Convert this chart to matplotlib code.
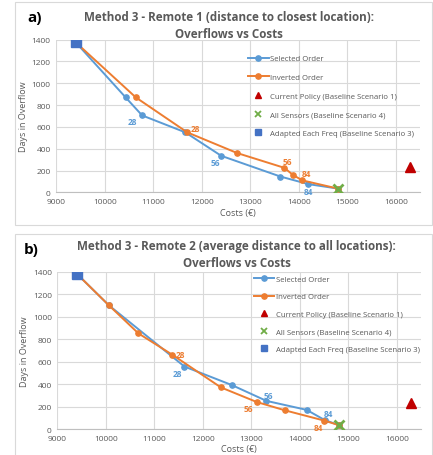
import matplotlib
matplotlib.use("Agg")
import matplotlib.pyplot as plt
from matplotlib.patches import Rectangle

plt.rcParams['font.family'] = ['Open Sans', 'DejaVu Sans']

# ---------------- data ----------------
# Panel a) Remote 1
a_sel_x = [9400, 10430, 10770, 11660, 12400, 13620, 14200, 14800]
a_sel_y = [1375, 870, 705, 550, 335, 145, 75, 35]
a_inv_x = [9400, 10640, 11700, 12730, 13700, 13880, 14070, 14800]
a_inv_y = [1375, 870, 550, 360, 225, 160, 110, 35]
a_sel_lbl = {2: "28", 4: "56", 6: "84"}
a_inv_lbl = {2: "28", 4: "56", 6: "84"}

# Panel b) Remote 2
b_sel_x = [9400, 10060, 11620, 12600, 13310, 14140, 14510, 14800]
b_sel_y = [1380, 1100, 555, 390, 250, 170, 80, 35]
b_inv_x = [9400, 10060, 10670, 11370, 12370, 13110, 13700, 14500, 14800]
b_inv_y = [1380, 1100, 850, 660, 370, 240, 165, 75, 35]
b_sel_lbl = {2: "28", 4: "56", 6: "84"}
b_inv_lbl = {3: "28", 5: "56", 7: "84"}

current_policy = (16300, 230)
all_sensors = (14800, 35)
adapted_each = (9400, 1378)

x_ticks = [9000, 10000, 11000, 12000, 13000, 14000, 15000, 16000]
y_ticks = [0, 200, 400, 600, 800, 1000, 1200, 1400]

BLUE = "#5B9BD5"
ORANGE = "#ED7D31"
RED = "#C00000"
GREEN = "#70AD47"
SQ = "#4472C4"
GRAY = "#595959"
GRID = "#D9D9D9"

fig = plt.figure(figsize=(4.33, 4.56), dpi=100)
fig.patch.set_facecolor("white")

# panel borders
fig.patches.append(Rectangle((15/433, 1-226/456), 417/433, 223/456, transform=fig.transFigure,
                             fill=False, edgecolor="#D9D9D9", lw=0.8))
fig.patches.append(Rectangle((15/433, -0.01), 417/433, (456-235)/456 + 0.01, transform=fig.transFigure,
                             fill=False, edgecolor="#D9D9D9", lw=0.8))


def draw(ax, sx, sy, ix, iy, slbl, ilbl, title, slbl_off, ilbl_off, leg_anchor, leg_space, tpad, tx):
    ax.set_xlim(9000, 16500)
    ax.set_ylim(0, 1400)
    ax.set_xticks(x_ticks)
    ax.set_yticks(y_ticks)
    ax.grid(True, color=GRID, lw=0.8)
    ax.set_axisbelow(True)
    for s in ["top", "right", "left"]:
        ax.spines[s].set_visible(False)
    ax.spines["bottom"].set_color("#BFBFBF")
    ax.tick_params(length=0, labelsize=6, colors=GRAY, pad=4)
    ax.set_xlabel("Costs (€)", fontsize=6.5, color=GRAY, labelpad=2)
    ax.set_ylabel("Days in Overflow", fontsize=6.5, color=GRAY, labelpad=3)

    ax.plot(sx, sy, color=BLUE, lw=1.4, marker="o", ms=3.8, label="Selected Order", zorder=3)
    ax.plot(ix, iy, color=ORANGE, lw=1.4, marker="o", ms=3.8, label="Inverted Order", zorder=4)
    ax.plot([current_policy[0]], [current_policy[1]], ls="none", marker="^", color=RED, ms=7,
            label="Current Policy (Baseline Scenario 1)", zorder=5)
    ax.plot([all_sensors[0]], [all_sensors[1]], ls="none", marker="x", color=GREEN, ms=7, mew=2,
            label="All Sensors (Baseline Scenario 4)", zorder=6)
    ax.plot([adapted_each[0]], [adapted_each[1]], ls="none", marker="s", color=SQ, ms=7.5,
            label="Adapted Each Freq (Baseline Scenario 3)", zorder=6)

    for i, t in slbl.items():
        dx, dy = slbl_off[i]
        ax.annotate(t, (sx[i], sy[i]), xytext=(dx, dy), textcoords="offset points",
                    ha="center", va="center", fontsize=6, color=BLUE, fontweight="bold", zorder=7)
    for i, t in ilbl.items():
        dx, dy = ilbl_off[i]
        ax.annotate(t, (ix[i], iy[i]), xytext=(dx, dy), textcoords="offset points",
                    ha="center", va="center", fontsize=6, color=ORANGE, fontweight="bold", zorder=7)

    leg = ax.legend(loc="upper left", bbox_to_anchor=leg_anchor, frameon=False, fontsize=5.6,
                    handlelength=2.6, handletextpad=0.2, labelspacing=leg_space, borderaxespad=0,
                    borderpad=0)
    for txt in leg.get_texts():
        txt.set_color(GRAY)
    hs = leg.legend_handles
    hs[0].set_markersize(3.8)
    hs[1].set_markersize(3.8)
    hs[2].set_markersize(4.5)
    hs[3].set_markersize(4.2)
    hs[3].set_markeredgewidth(1.3)
    hs[4].set_markersize(4.2)
    ax.set_title(title, fontsize=8.4, fontweight="bold", color=GRAY, pad=tpad, linespacing=1.35, x=tx)
    return ax


ax1 = fig.add_axes([0.130, 0.576, 0.840, 0.335])
draw(ax1, a_sel_x, a_sel_y, a_inv_x, a_inv_y, a_sel_lbl, a_inv_lbl,
     "Method 3 - Remote 1 (distance to closest location):\nOverflows vs Costs",
     {2: (-7, -4.5), 4: (-4, -4.5), 6: (0, -5.5)},
     {2: (5.5, 3), 4: (2.6, 4.5), 6: (2.9, 4.8)},
     (0.528, 0.90), 1.45, 0.5, 0.474)
fig.text(27/433, 1-18/456, "a)", fontsize=11, fontweight="bold", color="black", ha="left", va="center")

ax2 = fig.add_axes([0.1326, 0.057, 0.840, 0.3454])
draw(ax2, b_sel_x, b_sel_y, b_inv_x, b_inv_y, b_sel_lbl, b_inv_lbl,
     "Method 3 - Remote 2 (average distance to all locations):\nOverflows vs Costs",
     {2: (-4.8, -4.8), 4: (1.2, 3.6), 6: (2.4, 5)},
     {3: (5.8, 0.5), 5: (-6.2, -4.5), 7: (-4, -4.8)},
     (0.54, 0.975), 1.3, 4, 0.493)
fig.text(24/433, 1-250/456, "b)", fontsize=11, fontweight="bold", color="black", ha="left", va="center")

fig.savefig("out.png", dpi=100, facecolor="white")
